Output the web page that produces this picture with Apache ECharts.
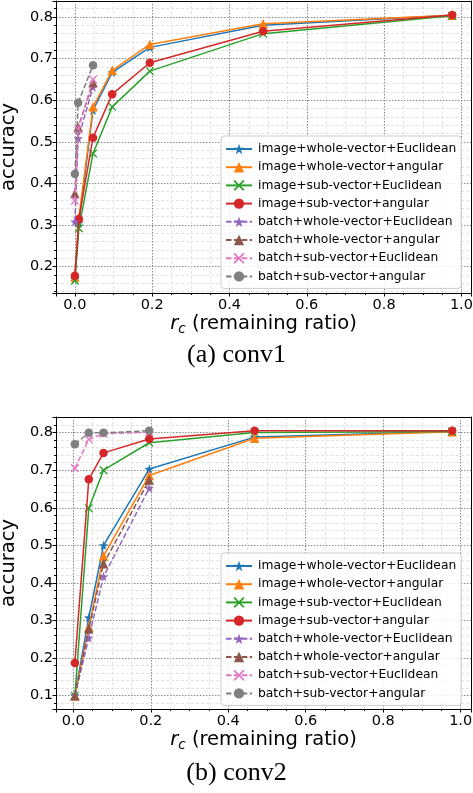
<!DOCTYPE html>
<html><head><meta charset="utf-8">
<script src="https://cdn.jsdelivr.net/npm/echarts@6/dist/echarts.min.js"></script>
<style>html,body{margin:0;padding:0;background:#fff}#c{width:473px;height:793px}</style>
</head><body><div id="c"></div>
<script>
// ---- data ----
const seriesNames = [
  'image+whole-vector+Euclidean','image+whole-vector+angular','image+sub-vector+Euclidean','image+sub-vector+angular',
  'batch+whole-vector+Euclidean','batch+whole-vector+angular','batch+sub-vector+Euclidean','batch+sub-vector+angular'
];
// conv1
const xImage1 = [0, 0.0104, 0.047, 0.0966, 0.194, 0.487, 0.976];
const xBatch1 = [0, 0.0086, 0.047];
const c1_imgWholeEuc = [0.170, 0.305, 0.576, 0.667, 0.727, 0.780, 0.804];
const c1_imgWholeAng = [0.175, 0.318, 0.584, 0.672, 0.734, 0.784, 0.804];
const c1_imgSubEuc   = [0.166, 0.292, 0.472, 0.584, 0.670, 0.760, 0.803];
const c1_imgSubAng   = [0.178, 0.3145, 0.510, 0.6145, 0.690, 0.766, 0.805];
const c1_batWholeEuc = [0.308, 0.508, 0.632];
const c1_batWholeAng = [0.376, 0.535, 0.642];
const c1_batSubEuc   = [0.358, 0.530, 0.650];
const c1_batSubAng   = [0.4225, 0.594, 0.684];
// conv2
const xImage2 = [0.004, 0.04, 0.078, 0.196, 0.468, 0.978];
const xBatch2 = [0.004, 0.04, 0.078, 0.196];
const c2_imgWholeEuc = [0.100, 0.308, 0.500, 0.703, 0.788, 0.803];
const c2_imgWholeAng = [0.100, 0.282, 0.472, 0.686, 0.785, 0.802];
const c2_imgSubEuc   = [0.100, 0.599, 0.700, 0.773, 0.800, 0.803];
const c2_imgSubAng   = [0.187, 0.676, 0.746, 0.783, 0.805, 0.805];
const c2_batWholeEuc = [0.100, 0.254, 0.417, 0.652];
const c2_batWholeAng = [0.100, 0.278, 0.451, 0.674];
const c2_batSubEuc   = [0.705, 0.782, 0.797, 0.801];
const c2_batSubAng   = [0.769, 0.7995, 0.7995, 0.805];
const subTitles = ['(a) conv1', '(b) conv2'];

// ---- styles ----
const colors = ['#1f77b4','#ff7f0e','#2ca02c','#d62728','#9467bd','#8c564b','#e377c2','#7f7f7f'];
const STAR = 'path://M0,-10 L2.35,-3.24 L9.51,-3.09 L3.8,1.24 L5.88,8.09 L0,4 L-5.88,8.09 L-3.8,1.24 L-9.51,-3.09 L-2.35,-3.24 Z';
const XMARK = 'path://M0,0 L1.2,0 L5,3.8 L8.8,0 L10,0 L10,1.2 L6.2,5 L10,8.8 L10,10 L8.8,10 L5,6.2 L1.2,10 L0,10 L0,8.8 L3.8,5 L0,1.2 Z';
const symbols = [STAR, 'triangle', XMARK, 'circle', STAR, 'triangle', XMARK, 'circle'];
const symSizes = [9.5, 9.5, 8, 8.5, 9.5, 9.5, 8, 8.5];
const dashed = [false,false,false,false,true,true,true,true];
const FONT = 'DejaVu Sans';

const grids = [
  {left: 56, width: 415, top: 1, height: 292, show: false, containLabel: false, outerBoundsMode: 'none'},
  {left: 56, width: 415, top: 417, height: 292, show: false, containLabel: false, outerBoundsMode: 'none'}
];
const yRanges = [[0.1365, 0.8385], [0.0646, 0.8415]];
const xRanges = [[-0.0488, 1.0248], [-0.0447, 1.0267]];

function isMult(v, step) { const r = v / step; return Math.abs(r - Math.round(r)) < 1e-6; }

function xAxis(gi) {
  return {
    type: 'value', gridIndex: gi, min: xRanges[gi][0], max: xRanges[gi][1], splitNumber: 5,
    name: '{r|r}{c|c} (remaining ratio)', nameLocation: 'middle', nameGap: 19,
    nameTextStyle: {fontFamily: FONT, fontSize: 19.5, color: '#000',
      rich: {r: {fontFamily: FONT, fontStyle: 'italic', fontSize: 19.5, color: '#000'},
             c: {fontFamily: FONT, fontStyle: 'italic', fontSize: 13.5, color: '#000', padding: [10, 0, 0, 0]}}},
    axisLine: {show: true, onZero: false, lineStyle: {color: '#000', width: 1}},
    axisTick: {show: true, length: 3.5, lineStyle: {color: '#000'}},
    minorTick: {show: true, splitNumber: 4, length: 2, lineStyle: {color: '#000'}},
    axisLabel: {fontFamily: FONT, fontSize: 14.5, color: '#000', margin: 5, hideOverlap: false,
      formatter: v => (isMult(v, 0.2) ? v.toFixed(1) : '')},
    splitLine: {show: true, lineStyle: {color: '#8a8a8a', type: [1.5, 1.5], width: 1}},
    minorSplitLine: {show: true, lineStyle: {color: '#dcdcdc', type: [3, 2], width: 0.8}}
  };
}
function yAxis(gi) {
  return {
    type: 'value', gridIndex: gi, min: yRanges[gi][0], max: yRanges[gi][1], splitNumber: 7,
    name: 'accuracy', nameLocation: 'middle', nameGap: 35,
    nameTextStyle: {fontFamily: FONT, fontSize: 19.5, color: '#000'},
    axisLine: {show: true, onZero: false, lineStyle: {color: '#000', width: 1}},
    axisTick: {show: true, length: 3.5, lineStyle: {color: '#000'}},
    minorTick: {show: true, splitNumber: 5, length: 2, lineStyle: {color: '#000'}},
    axisLabel: {fontFamily: FONT, fontSize: 14.5, color: '#000', margin: 3,
      formatter: v => (isMult(v, 0.1) ? v.toFixed(1) : '')},
    splitLine: {show: true, lineStyle: {color: '#8a8a8a', type: [1.5, 1.5], width: 1}},
    minorSplitLine: {show: true, lineStyle: {color: '#dcdcdc', type: [3, 2], width: 0.8}}
  };
}
// spine axes (top / right)
function spineX(gi) {
  return {type: 'value', gridIndex: gi, position: 'top', min: xRanges[gi][0], max: xRanges[gi][1],
    axisLine: {show: true, onZero: false, lineStyle: {color: '#000'}}, axisTick: {show: false},
    axisLabel: {show: false}, splitLine: {show: false}};
}
function spineY(gi) {
  return {type: 'value', gridIndex: gi, position: 'right', min: yRanges[gi][0], max: yRanges[gi][1],
    axisLine: {show: true, onZero: false, lineStyle: {color: '#000'}}, axisTick: {show: false},
    axisLabel: {show: false}, splitLine: {show: false}};
}

const dataSets = [
  [[xImage1, c1_imgWholeEuc],[xImage1, c1_imgWholeAng],[xImage1, c1_imgSubEuc],[xImage1, c1_imgSubAng],
   [xBatch1, c1_batWholeEuc],[xBatch1, c1_batWholeAng],[xBatch1, c1_batSubEuc],[xBatch1, c1_batSubAng]],
  [[xImage2, c2_imgWholeEuc],[xImage2, c2_imgWholeAng],[xImage2, c2_imgSubEuc],[xImage2, c2_imgSubAng],
   [xBatch2, c2_batWholeEuc],[xBatch2, c2_batWholeAng],[xBatch2, c2_batSubEuc],[xBatch2, c2_batSubAng]]
];

const series = [];
dataSets.forEach((ds, gi) => {
  ds.forEach(([xs, ys], i) => {
    series.push({
      type: 'line', name: seriesNames[i], xAxisIndex: gi * 2, yAxisIndex: gi * 2,
      data: xs.map((x, k) => [x, ys[k]]),
      symbol: symbols[i], symbolSize: symSizes[i], showSymbol: true, animation: false,
      itemStyle: {color: colors[i], borderWidth: 0},
      lineStyle: {color: colors[i], width: 1.5, type: dashed[i] ? [5.5, 2.4] : 'solid'},
      z: 3 + i * 0.01
    });
  });
});

const legends = [136, 553].map(top => ({
  data: seriesNames, orient: 'vertical', left: 221, top: top,
  itemWidth: 26, itemHeight: 13, itemGap: 4.2, padding: [6, 5, 5, 4],
  backgroundColor: 'rgba(255,255,255,0.85)', borderColor: '#cccccc', borderWidth: 1, borderRadius: 3,
  textStyle: {fontFamily: FONT, fontSize: 12.3, color: '#000', lineHeight: 14, padding: [0, 0, 0, 1]},
  selectedMode: false
}));

const option = {
  backgroundColor: '#fff', animation: false,
  grid: grids,
  xAxis: [xAxis(0), spineX(0), xAxis(1), spineX(1)],
  yAxis: [yAxis(0), spineY(0), yAxis(1), spineY(1)],
  legend: legends,
  title: [
    {text: subTitles[0], left: 'center', top: 337, textStyle: {fontFamily: 'Liberation Serif', fontSize: 26, fontWeight: 'normal', color: '#000'}},
    {text: subTitles[1], left: 'center', top: 755, textStyle: {fontFamily: 'Liberation Serif', fontSize: 26, fontWeight: 'normal', color: '#000'}}
  ],
  series: series
};
const chart = echarts.init(document.getElementById('c'), null, {renderer: 'canvas'});
chart.setOption(option);
</script></body></html>
